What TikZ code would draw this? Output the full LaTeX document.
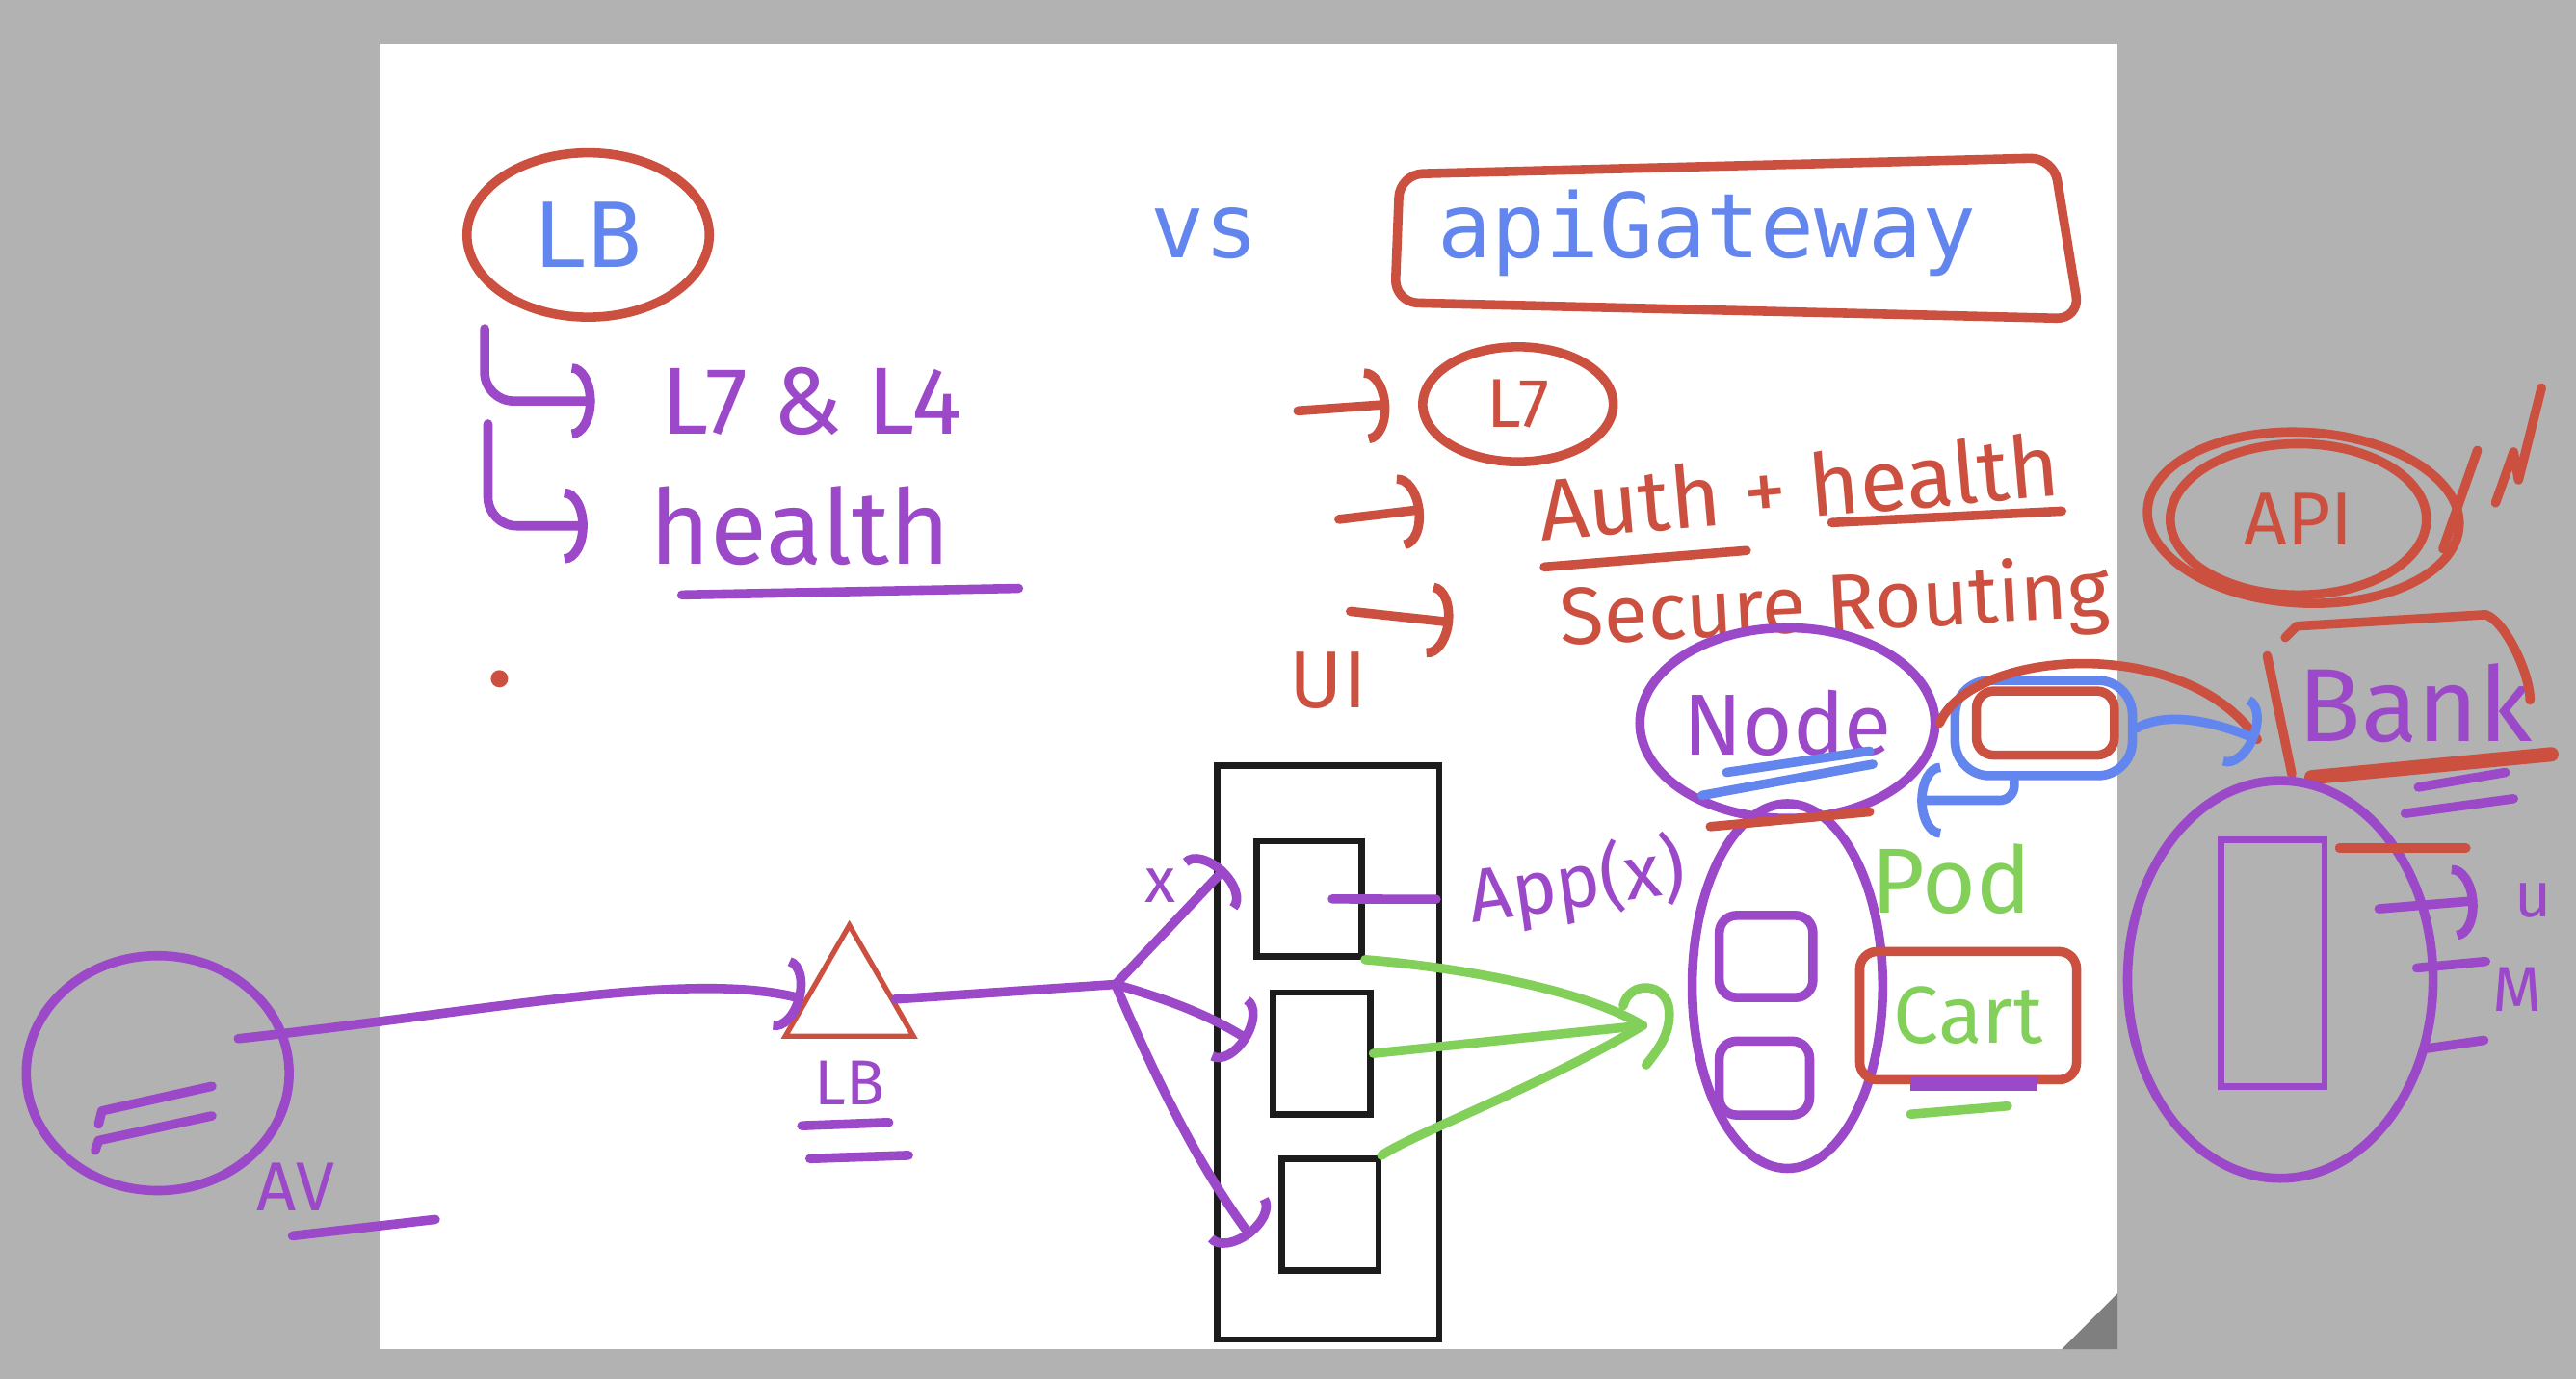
\documentclass[tikz,border=0pt]{standalone}
\usepackage{fontspec}
\newfontfamily\typedfont{DejaVu Sans Mono}
\newfontfamily\handfont{Fira Sans}
\usetikzlibrary{positioning,shapes.geometric,arrows.meta}
\definecolor{bgGray}{HTML}{B2B2B2}
\definecolor{cornerGray}{HTML}{7F7F7F}
\definecolor{penRed}{HTML}{CC5040}
\definecolor{penPurple}{HTML}{9B48C9}
\definecolor{penBlue}{HTML}{6385EE}
\definecolor{penGreen}{HTML}{82D05A}
\definecolor{inkBlack}{HTML}{1C1C1C}

\begin{document}
\begin{tikzpicture}[x=0.02cm,y=-0.02cm,>={Arc Barb[length=8pt,width=26pt]},
  pen/.style={line width=3.2pt,line cap=round,line join=round},
  ink/.style={draw=inkBlack,line width=2.2pt,inner sep=0pt},
  typed/.style={font=\typedfont\fontsize{31}{36}\selectfont,text=penBlue,inner sep=0pt},
  hand/.style={font=\handfont\fontsize{#1}{#1}\selectfont,inner sep=0pt},
  hand/.default=28]
\useasboundingbox (0,0) rectangle (1568,839);
\fill[bgGray] (0,0) rectangle (1568,839);
\fill[white] (231,27) rectangle (1289,821);
\fill[cornerGray] (1255,821) -- (1289,787) -- (1289,821) -- cycle;

% heading
\node[typed,draw=penRed,pen,ellipse,minimum width=2.95cm,minimum height=2cm] (lbhead) at (358,143) {LB};
\node[typed] (vs) at (733,142) {vs};
\node[typed] (gateway) at (1039,142) {apiGateway};
\draw[pen,penRed,rounded corners=8pt] (852,106) -- (1250,96) -- (1266,194) -- (849,184) -- cycle;

% what a LB does
\node[hand=33,text=penPurple] (layers) at (494,244) {L7 \& L4};
\node[hand=36,text=penPurple] (lbhealth) at (487,320) {health};
\coordinate (tree1) at (295,200);
\coordinate (tree2) at (297,258);
\draw[pen,penPurple,->,rounded corners=10pt] (tree1) |- ([xshift=-0.8cm]layers.west);
\draw[pen,penPurple,->,rounded corners=10pt] (tree2) |- ([xshift=-0.75cm]lbhealth.west);
\draw[pen,penPurple] (415,362) -- (620,358);
\fill[penRed] (304,413) circle (3pt);

% what a gateway does
\node[hand=24,text=penRed,draw=penRed,pen,ellipse,minimum width=2.32cm,minimum height=1.4cm] (l7) at (924,246) {L7};
\node[hand=30,text=penRed,rotate=5] (authhealth) at (1095,296) {Auth + health};
\node[hand=28,text=penRed,rotate=3] (secure) at (1117,370) {Secure Routing};
\coordinate (gw1) at (790,250);
\coordinate (gw2) at (815,316);
\coordinate (gw3) at (822,372);
\draw[pen,penRed,->] (gw1) -- ([xshift=-0.35cm]l7.west);
\draw[pen,penRed,->] (gw2) -- ([xshift=-1.4cm]authhealth.west);
\draw[pen,penRed,->] (gw3) -- ([xshift=-1.3cm]secure.west);
\draw[pen,penRed] (940,345) -- (1063,335);
\draw[pen,penRed] (1115,318) -- (1255,311);

% ui rack
\node[ink,minimum width=2.7cm,minimum height=6.98cm] (uirack) at (808.5,640.5) {};
\node[ink,minimum width=1.28cm,minimum height=1.4cm] (box1) at (797,547) {};
\node[ink,minimum width=1.18cm,minimum height=1.48cm] (box2) at (804.5,641) {};
\node[ink,minimum width=1.18cm,minimum height=1.36cm] (box3) at (809.5,739) {};
\node[hand=28,text=penRed,above=0.65cm of uirack] (uilabel) {UI};

% user and LB
\node[draw=penPurple,pen,ellipse,minimum width=3.2cm,minimum height=2.86cm] (user) at (96,653) {};
\draw[pen,penPurple] (60,684) -- (62,676) -- (129,661);
\draw[pen,penPurple] (58,700) -- (60,694) -- (129,679);
\node[hand=24,text=penPurple] (avlabel) at (180,722) {AV};
\draw[pen,penPurple] (178,752) -- (265,742);
\coordinate (userout) at (145,632);
\node[draw=penRed,line width=1.8pt,regular polygon,regular polygon sides=3,minimum size=1.8cm,inner sep=0pt] (lbtri) at (517,608) {};
\draw[pen,penPurple,->] (userout) .. controls (300,615) and (420,590) .. (lbtri.west);
\node[hand=22,text=penPurple,below=0.26cm of lbtri] (lblabel) {LB};
\draw[pen,penPurple] (488,685) -- (541,683);
\draw[pen,penPurple] (493,705) -- (553,703);

\coordinate (fork) at (679,599);
\draw[pen,penPurple] (lbtri.east) -- (fork);
\draw[pen,penPurple,->,shorten >=0.5cm] (fork) -- node[hand=22,text=penPurple,above left=2pt] (xlabel) {x} (box1.north west);
\draw[pen,penPurple,->,shorten >=0.3cm] (fork) to[bend left=8] (box2.west);
\draw[pen,penPurple,->,shorten >=0.55cm] (fork) .. controls (705,660) and (730,710) .. (box3.south west);

\node[hand=26,text=penPurple,rotate=8] (applabel) at (960,538) {App(x)};
\draw[pen,penPurple,shorten <=0.28cm,shorten >=0.4cm] (box1.center) -- (applabel.west);

% pods
\coordinate (podjoin) at (1000,624);
\draw[pen,penGreen] (box1.south east) .. controls (880,588) and (960,600) .. (podjoin);
\draw[pen,penGreen] (box2.east) -- (podjoin);
\draw[pen,penGreen] (box3.north east) .. controls (860,690) and (940,660) .. (podjoin);
\draw[pen,penGreen] (988,612) .. controls (992,596) and (1015,598) .. (1016,615) .. controls (1017,630) and (1008,640) .. (1002,648);

\node[draw=penPurple,pen,ellipse,minimum width=2.32cm,minimum height=4.44cm] (podgroup) at (1088,600) {};
\node[draw=penPurple,pen,rounded corners=6pt,minimum width=1.14cm,minimum height=1cm] (pod1) at (1075,582) {};
\node[draw=penPurple,pen,rounded corners=6pt,minimum width=1.1cm,minimum height=0.9cm] (pod2) at (1074,656) {};
\node[hand=32,text=penGreen] (podlabel) at (1188,535) {Pod};
\node[hand=28,text=penGreen,draw=penRed,pen,rounded corners=6pt,minimum width=2.64cm,minimum height=1.56cm] (cart) at (1198,618) {Cart};
\fill[penPurple] (1163,655) rectangle (1240,664);
\draw[pen,penGreen] (1163,678) -- (1222,673);

% node service and cache
\node[hand=30,text=penPurple,draw=penPurple,pen,ellipse,minimum width=3.4cm,minimum height=2.32cm] (nodesvc) at (1088,440) {Node};
\draw[pen,penBlue] (1051,470) -- (1138,457);
\draw[pen,penBlue] (1036,484) -- (1140,465);
\draw[pen,penRed] (1041,503) -- (1138,494);
\node[draw=penBlue,pen,rounded corners=12pt,minimum width=2.16cm,minimum height=1.16cm] (cache) at (1244,443) {};
\node[draw=penRed,pen,rounded corners=6pt,minimum width=1.68cm,minimum height=0.78cm] (cachein) at (1245,440) {};
\coordinate (bankgate) at (1374,450);
\coordinate (podtop) at (1167,487);
\draw[pen,penRed] (nodesvc.east) .. controls (1200,395) and (1330,385) .. (bankgate);
\draw[pen,penBlue,->] (cache.east) .. controls (1320,432) and (1350,440) .. (bankgate);
\draw[pen,penBlue,->,rounded corners=5pt] ([xshift=-0.36cm]cache.south) |- (podtop);

% api
\node[hand=26,text=penRed,draw=penRed,pen,ellipse,minimum width=3.12cm,minimum height=1.84cm] (api) at (1399,316) {API};
\draw[pen,penRed,rotate around={-3:(1402,315)}] (1402,315) ellipse [x radius=1.9cm,y radius=1.04cm];
\draw[pen,penRed] (1508,274) -- (1487,334);
\draw[pen,penRed] (1519,306) -- (1530,275) -- (1533,292) -- (1547,236);

% bank
\node[hand=36,text=penPurple] (bank) at (1470,428) {Bank};
\draw[pen,penRed] (1391,388) -- (1398,381) -- (1513,374) .. controls (1525,378) and (1540,410) .. (1540,426);
\draw[pen,penRed] (1380,399) -- (1395,471);
\draw[pen,penRed,line width=5pt] (1407,473) -- (1553,459);
\draw[pen,penPurple] (1472,479) -- (1525,470);
\draw[pen,penPurple] (1464,495) -- (1530,486);
\node[draw=penPurple,pen,ellipse,minimum width=3.72cm,minimum height=4.84cm] (bankhost) at (1388,596) {};
\node[draw=penPurple,line width=2.2pt,minimum width=1.26cm,minimum height=3cm] (bankdb) at (1383.5,586) {};
\draw[pen,penRed] (1424,516) -- (1501,516);
\node[hand=22,text=penPurple] (ulabel) at (1542,548) {u};
\node[hand=22,text=penPurple] (mlabel) at (1532,602) {M};
\coordinate (tickA) at (1448,553);
\draw[pen,penPurple,->] (tickA) -- ([xshift=-0.45cm]ulabel.west);
\draw[pen,penPurple] (1471,589) -- (1513,585);
\draw[pen,penPurple] (1477,638) -- (1512,633);
\end{tikzpicture}
\end{document}
